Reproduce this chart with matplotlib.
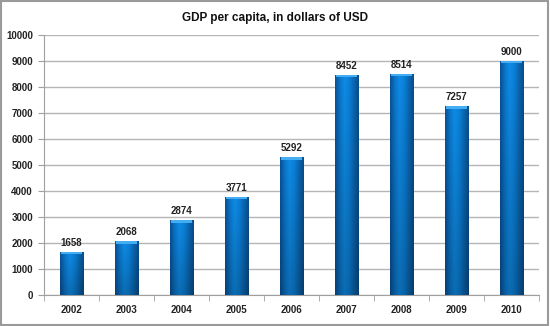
import matplotlib
matplotlib.use("Agg")
import matplotlib.pyplot as plt
import numpy as np
from matplotlib.colors import LinearSegmentedColormap
from matplotlib.patches import Rectangle

years = ["2002", "2003", "2004", "2005", "2006", "2007", "2008", "2009", "2010"]
gdp = [1658, 2068, 2874, 3771, 5292, 8452, 8514, 7257, 9000]
title = "GDP per capita, in dollars of USD"

plt.rcParams["font.family"] = ["Liberation Sans", "DejaVu Sans"]

fig = plt.figure(figsize=(5.5, 3.26), dpi=100)
fig.patch.set_facecolor("white")
border = Rectangle((0.002, 0.003), 0.995, 0.993, transform=fig.transFigure,
                   fill=False, edgecolor="#9a9a9a", linewidth=1.5)
fig.add_artist(border)

ax = fig.add_axes([0.08, 0.095, 0.90, 0.798])
x = np.arange(len(years))
width = 0.42
bars = ax.bar(x, gdp, width=width, color="#0B74CC", edgecolor="#0A4C8A",
              linewidth=0.6, zorder=3)

cmap = LinearSegmentedColormap.from_list(
    "bar", ["#0A5096", "#0B76CA", "#0F8CE6", "#0C80D8", "#0A66B0", "#0A4C8A"])
grad = np.linspace(0, 1, 64).reshape(1, -1)
for b in bars:
    x0, w, h = b.get_x(), b.get_width(), b.get_height()
    im = ax.imshow(grad, extent=[x0, x0 + w, 0, h], cmap=cmap, aspect="auto",
                   zorder=3.5, interpolation="bicubic")
    im.set_clip_path(b)
    # darker fade toward the base
    rgba = np.zeros((64, 1, 4))
    rgba[..., 3] = np.linspace(0.22, 0, 64).reshape(-1, 1)
    im2 = ax.imshow(rgba, extent=[x0, x0 + w, 0, h], aspect="auto",
                    zorder=3.6, interpolation="bicubic", origin="lower")
    im2.set_clip_path(b)
    ax.add_patch(Rectangle((x0 + w * 0.04, h - 90), w * 0.92, 90,
                           facecolor="#45AEF2", edgecolor="none", zorder=4))

for xi, v in zip(x, gdp):
    ax.text(xi, v + 150, str(v), ha="center", va="bottom", fontsize=7,
            fontweight="bold", color="#222222", zorder=5)

ax.set_xlim(-0.5, len(years) - 0.5)
ax.set_ylim(0, 10000)
ax.set_yticks(np.arange(0, 10001, 1000))
ax.set_xticks(x)
ax.set_xticklabels(years)
ax.set_xticks(np.arange(-0.5, len(years), 1), minor=True)
ax.tick_params(axis="x", which="major", length=0, labelsize=7, pad=7)
ax.tick_params(axis="x", which="minor", length=4, color="#a0a0a0")
ax.tick_params(axis="y", length=4, color="#a0a0a0", labelsize=7, pad=4)
for lab in ax.get_xticklabels() + ax.get_yticklabels():
    lab.set_fontweight("bold")
    lab.set_color("#222222")
ax.grid(axis="y", color="#b5b5b5", linewidth=1, zorder=0)
ax.set_axisbelow(True)
for s in ["top", "right"]:
    ax.spines[s].set_visible(False)
for s in ["left", "bottom"]:
    ax.spines[s].set_color("#a0a0a0")

fig.text(0.5, 0.945, title, ha="center", va="center", fontsize=8.5,
         fontweight="bold", color="#111111")

fig.savefig("out.png", dpi=100)
